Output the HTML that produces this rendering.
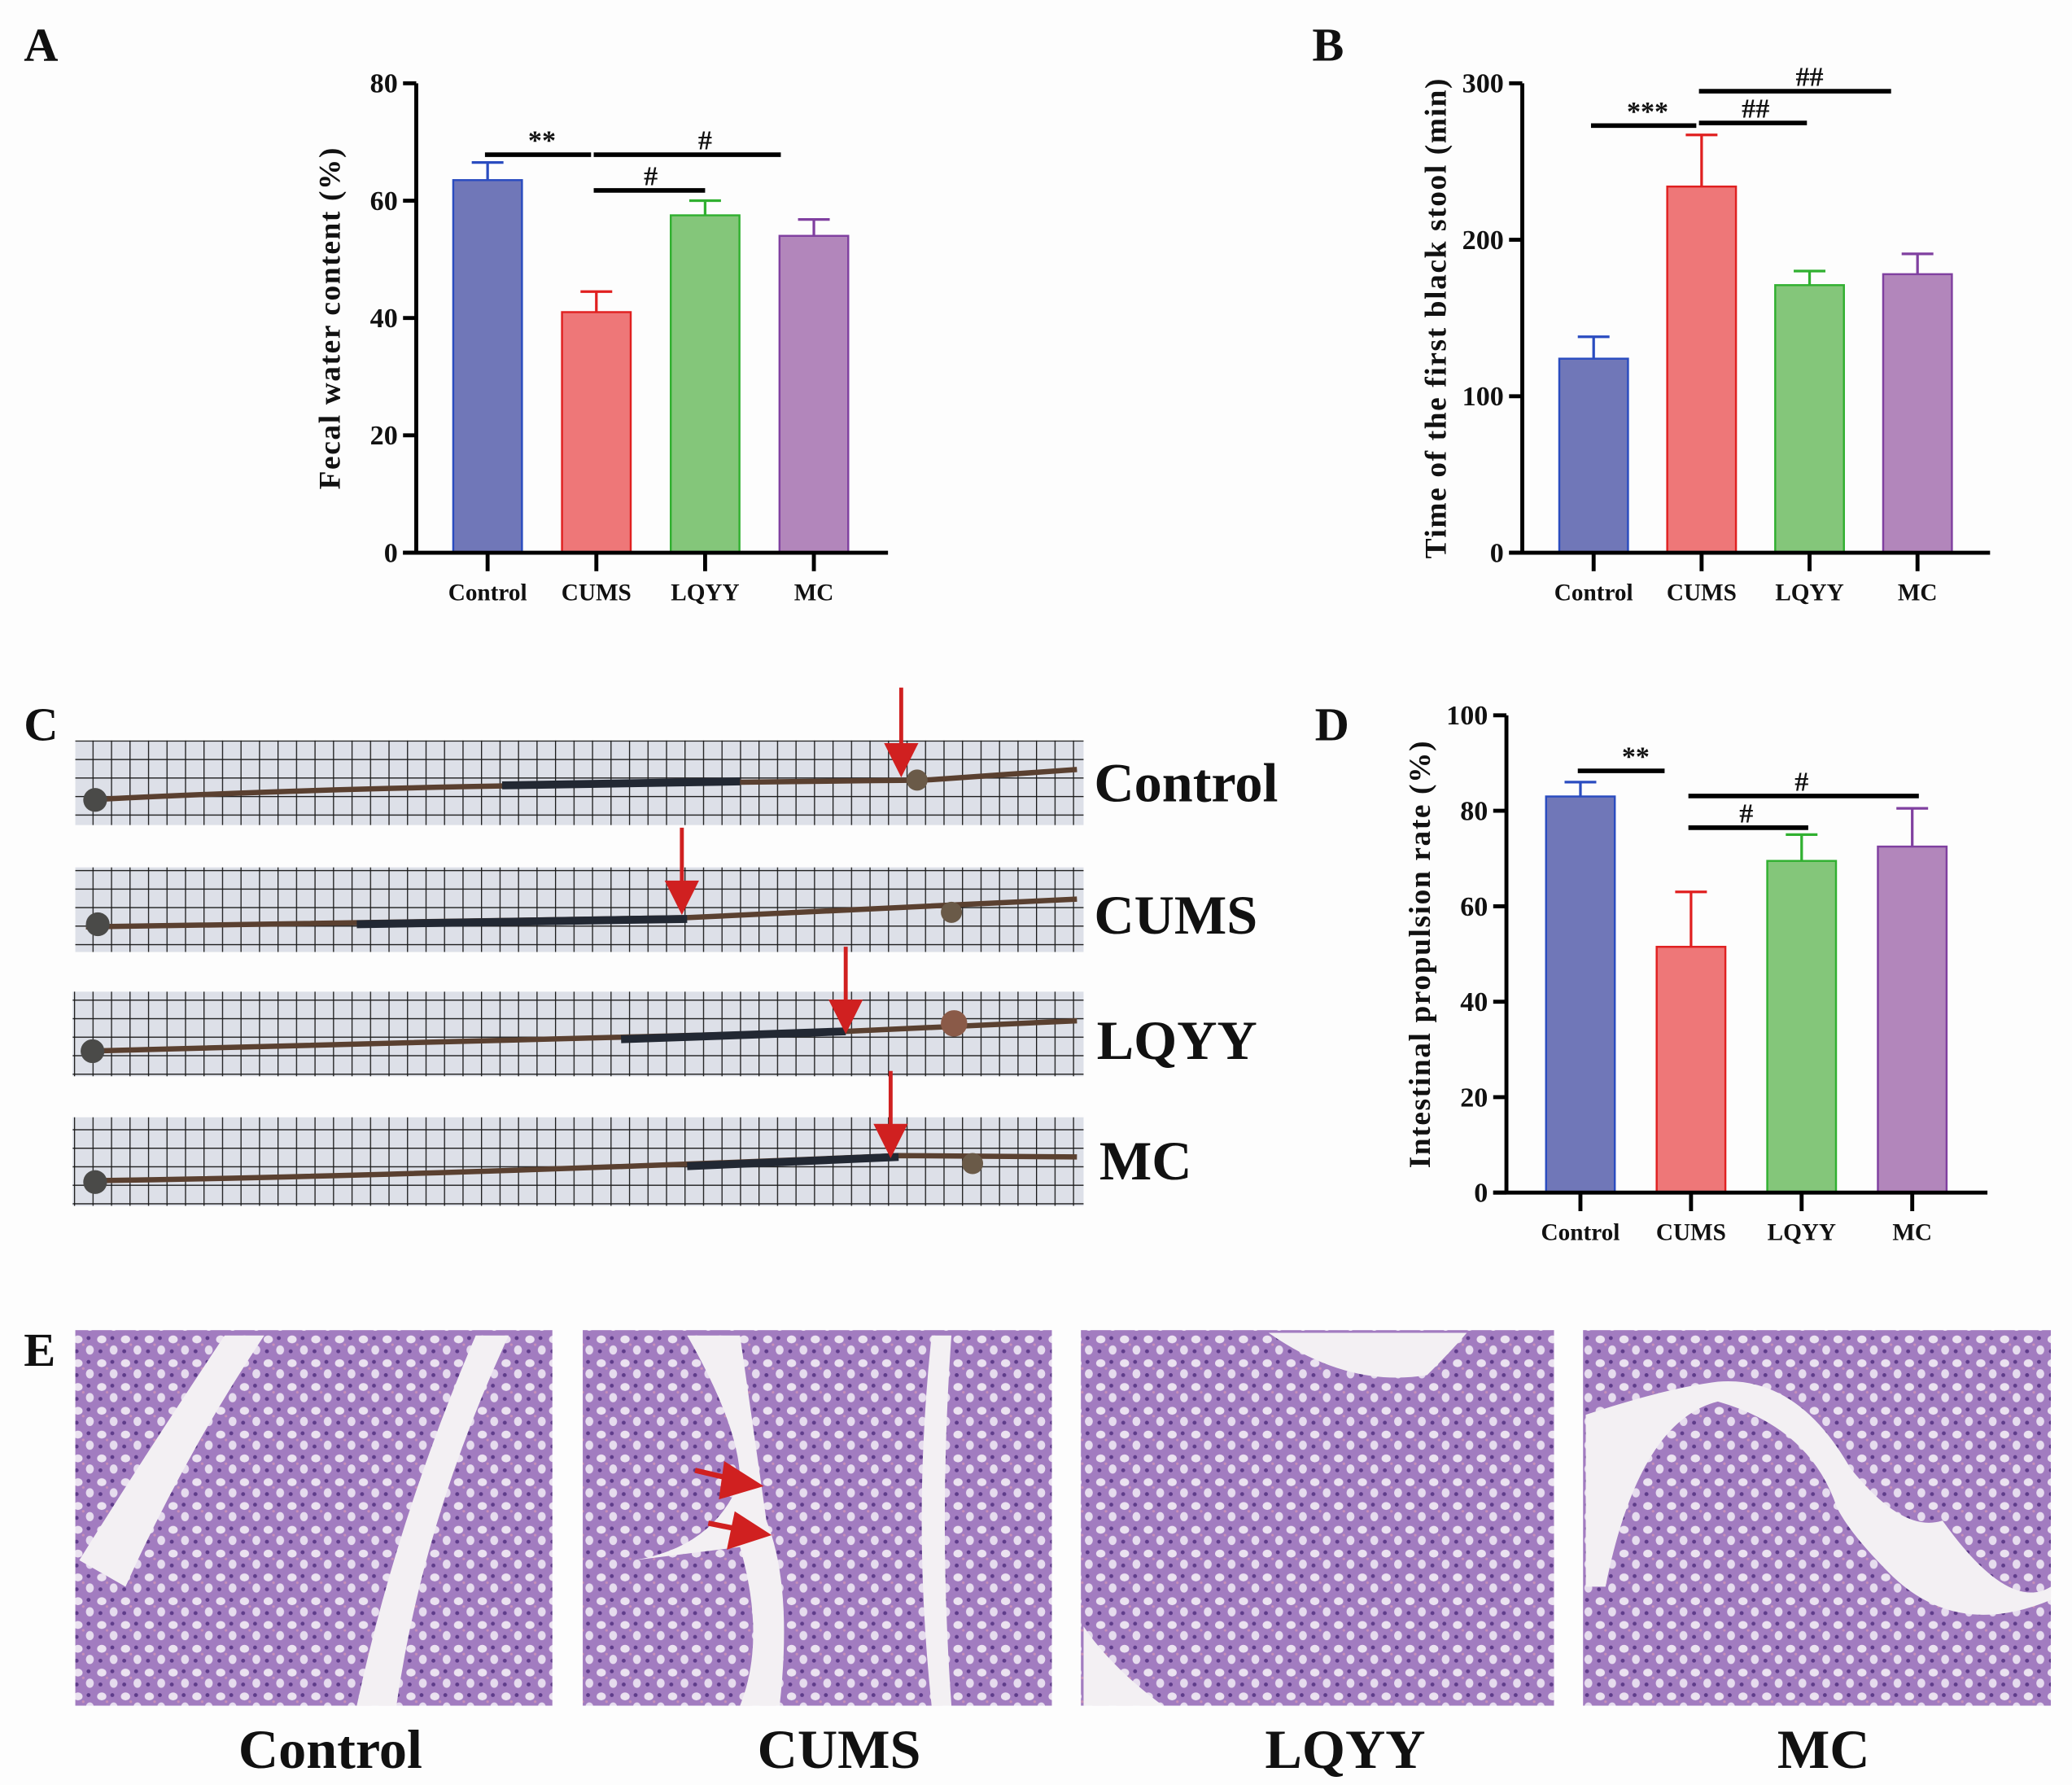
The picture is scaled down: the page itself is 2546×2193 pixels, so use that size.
<!DOCTYPE html>
<html><head><meta charset="utf-8"><style>
html,body{margin:0;padding:0;background:#fdfdfd;}
svg{display:block;}
text{font-family:"Liberation Serif",serif;font-weight:bold;fill:#111;}
</style></head><body>
<svg id="fig" width="2546" height="2193" viewBox="0 0 1568 1350" preserveAspectRatio="none" xmlns="http://www.w3.org/2000/svg">
<defs>
<pattern id="grid" width="14" height="14" patternUnits="userSpaceOnUse">
<rect width="14" height="14" fill="#dde0e8"/>
<path d="M0 0H14M0 0V14" stroke="#1a1a1a" stroke-width="1.6"/>
</pattern>
<pattern id="tissue" width="18" height="18" patternUnits="userSpaceOnUse">
<rect width="18" height="18" fill="#a27cc0"/>
<ellipse cx="5" cy="5" rx="3.5" ry="3" fill="#ebe2f0"/>
<ellipse cx="14" cy="13" rx="3" ry="3.5" fill="#e6dcee"/>
<circle cx="13" cy="4" r="1.5" fill="#5e3c8a"/>
<circle cx="4" cy="14" r="1.5" fill="#5e3c8a"/>
<circle cx="9" cy="9" r="1" fill="#c890b8"/>
</pattern>
</defs>
<rect width="1568" height="1350" fill="#fdfdfd"/>
<g id="panelA"></g>
<g id="panelB"></g>
<g id="panelD"></g>
<text x="18" y="46" font-size="36">A</text>
<text x="993" y="46" font-size="36">B</text>
<text x="18" y="560" font-size="36">C</text>
<text x="995" y="560" font-size="36">D</text>
<text x="18" y="1033" font-size="36">E</text>

<g>
<g>
<rect x="57" y="560" width="763" height="64" fill="url(#grid)"/>
<path d="M65 605 Q200 598 350 595 T700 590 L815 582" stroke="#5a4030" stroke-width="4" fill="none"/>
<path d="M380 594 L560 591" stroke="#222833" stroke-width="6"/>
<circle cx="72" cy="605" r="9" fill="#4a4a48"/><circle cx="694" cy="590" r="8" fill="#6a5a48"/>
<path d="M682 520 V575" stroke="#d02020" stroke-width="3"/><path d="M669 562 L695 562 L682 588Z" fill="#d02020"/>
<text x="828" y="606" font-size="42">Control</text>
</g>
<g>
<rect x="57" y="656" width="763" height="64" fill="url(#grid)"/>
<path d="M65 701 Q300 698 520 694 L815 680" stroke="#5a4030" stroke-width="4" fill="none"/>
<path d="M270 699 L520 695" stroke="#222833" stroke-width="6"/>
<circle cx="74" cy="699" r="9" fill="#4a4a48"/><circle cx="720" cy="690" r="8" fill="#6a5a48"/>
<path d="M516 626 V680" stroke="#d02020" stroke-width="3"/><path d="M503 666 L529 666 L516 692Z" fill="#d02020"/>
<text x="828" y="706" font-size="42">CUMS</text>
</g>
<g>
<rect x="55" y="750" width="765" height="64" fill="url(#grid)"/>
<path d="M65 795 Q300 790 640 780 L815 772" stroke="#5a4030" stroke-width="4" fill="none"/>
<path d="M470 786 L640 780" stroke="#222833" stroke-width="6"/>
<circle cx="70" cy="795" r="9" fill="#4a4a48"/><circle cx="722" cy="774" r="10" fill="#8a5a48"/>
<path d="M640 716 V768" stroke="#d02020" stroke-width="3"/><path d="M627 756 L653 756 L640 782Z" fill="#d02020"/>
<text x="830" y="801" font-size="42">LQYY</text>
</g>
<g>
<rect x="55" y="845" width="765" height="67" fill="url(#grid)"/>
<path d="M65 893 Q300 890 680 874 L815 875" stroke="#5a4030" stroke-width="4" fill="none"/>
<path d="M520 882 L680 875" stroke="#222833" stroke-width="6"/>
<circle cx="72" cy="894" r="9" fill="#4a4a48"/><circle cx="736" cy="880" r="8" fill="#6a5a48"/>
<path d="M674 810 V862" stroke="#d02020" stroke-width="3"/><path d="M661 850 L687 850 L674 876Z" fill="#d02020"/>
<text x="832" y="892" font-size="42">MC</text>
</g>
</g>

<g>
<g>
<rect x="57" y="1006" width="361" height="284" fill="url(#tissue)"/>
<path d="M60 1180 Q110 1100 170 1010 L200 1010 Q140 1100 95 1200Z M270 1290 Q300 1150 360 1010 L385 1010 Q320 1150 300 1290Z" fill="#f3f0f3"/>
<text x="250" y="1337" font-size="42" text-anchor="middle">Control</text>
</g>
<g>
<rect x="441" y="1006" width="355" height="284" fill="url(#tissue)"/>
<path d="M520 1010 Q560 1080 560 1120 Q540 1170 480 1180 L560 1170 Q580 1240 560 1290 L590 1290 Q600 1200 580 1150 L560 1010Z M705 1010 Q690 1150 705 1290 L720 1290 Q710 1150 720 1010Z" fill="#f3f0f3"/>
<path d="M526 1112 L560 1120" stroke="#d02020" stroke-width="4"/><path d="M548 1105 L578 1124 L544 1134Z" fill="#d02020"/>
<path d="M536 1152 L566 1158" stroke="#d02020" stroke-width="4"/><path d="M556 1143 L584 1161 L550 1172Z" fill="#d02020"/>
<text x="635" y="1337" font-size="42" text-anchor="middle">CUMS</text>
</g>
<g>
<rect x="818" y="1006" width="358" height="284" fill="url(#tissue)"/>
<path d="M960 1008 Q1020 1050 1080 1040 Q1100 1020 1110 1008Z M820 1230 Q840 1260 880 1290 L820 1290Z" fill="#f3f0f3"/>
<text x="1018" y="1337" font-size="42" text-anchor="middle">LQYY</text>
</g>
<g>
<rect x="1198" y="1006" width="354" height="284" fill="url(#tissue)"/>
<path d="M1200 1070 Q1260 1050 1300 1045 Q1360 1040 1400 1110 Q1440 1160 1470 1150 Q1520 1220 1552 1200 L1552 1210 Q1480 1240 1430 1190 Q1400 1160 1390 1140 Q1370 1080 1300 1060 Q1240 1075 1215 1200 L1200 1200Z" fill="#f3f0f3"/>
<text x="1380" y="1337" font-size="42" text-anchor="middle">MC</text>
</g>
</g>
</svg>
<script>
const categories = ["Control","CUMS","LQYY","MC"];
const aValues = [63.5, 41, 57.5, 54];
const aErrors = [3, 3.5, 2.5, 2.8];
const aTicks = [0,20,40,60,80];
const bValues = [124, 234, 171, 178];
const bErrors = [14, 33, 9, 13];
const bTicks = [0,100,200,300];
const dValues = [83, 51.5, 69.5, 72.5];
const dErrors = [3, 11.5, 5.5, 8];
const dTicks = [0,20,40,60,80,100];
const fills = ["#7077b8","#ee7778","#84c67a","#b286bb"];
const strokes = ["#2a4cc0","#e02020","#30b030","#8040a0"];
const NS = "http://www.w3.org/2000/svg";
function mk(parent, tag, attrs, txt){
  const e = document.createElementNS(NS, tag);
  for (const k in attrs) e.setAttribute(k, attrs[k]);
  if (txt !== undefined) e.textContent = txt;
  parent.appendChild(e); return e;
}
function chart(gid, cfg, values, errors, ticks, sigs){
  const g = document.getElementById(gid);
  const max = ticks[ticks.length-1];
  const y = v => cfg.y0 - (v/max)*(cfg.y0-cfg.y1);
  const x = i => cfg.cx0 + i*cfg.step;
  values.forEach((v,i)=>{
    const r = mk(g,"rect",{x:x(i)-cfg.bw/2,y:y(v),width:cfg.bw,height:cfg.y0-y(v),fill:fills[i],stroke:strokes[i],"stroke-width":1.5});
    
    
    const e = mk(g,"path",{d:`M${x(i)} ${y(v)} V${y(v+errors[i])} M${x(i)-12} ${y(v+errors[i])} H${x(i)+12}`,stroke:strokes[i],"stroke-width":2,fill:"none"});
    
    
    const t = mk(g,"text",{x:x(i),y:cfg.y0+36,"font-size":18,"text-anchor":"middle"},categories[i]);
    
    
    mk(g,"path",{d:`M${x(i)} ${cfg.y0} V${cfg.y0+14}`,stroke:"#000","stroke-width":3});
  });
  const ax = mk(g,"path",{d:`M${cfg.ax} ${cfg.y1} V${cfg.y0} M${cfg.ax-10} ${cfg.y0} H${cfg.xe}`,stroke:"#000","stroke-width":3,fill:"none"});
  
  
  ticks.forEach(tv=>{
    mk(g,"path",{d:`M${cfg.ax-10} ${y(tv)} H${cfg.ax}`,stroke:"#000","stroke-width":3});
    const t = mk(g,"text",{x:cfg.ax-14,y:y(tv)+7,"font-size":21,"text-anchor":"end"},tv);
    
    
  });
  const yt = mk(g,"text",{transform:`translate(${cfg.ax-58},${(cfg.y0+cfg.y1)/2}) rotate(-90)`,"font-size":23,"text-anchor":"middle","letter-spacing":"1"},cfg.title);
  
  
  sigs.forEach(s=>{
    const p = mk(g,"path",{d:`M${x(s[0])-2} ${s[2]} H${x(s[1])+ (s[4]||0)}`,stroke:"#000","stroke-width":3.5});
    
    
    const t = mk(g,"text",{x:(x(s[0])+x(s[1]))/2,y:s[2]-4,"font-size":21,"text-anchor":"middle"},s[3]);
    
    
  });
}
chart("panelA",{ax:315,y0:418,y1:63,xe:672,cx0:369,step:82.3,bw:52,title:"Fecal water content (%)"},aValues,aErrors,aTicks,
  [[0,1,117,"**",-4],[1,3,117,"#",-25],[1,2,144,"#",0]]);
chart("panelB",{ax:1152,y0:418,y1:63,xe:1506,cx0:1206,step:81.7,bw:52,title:"Time of the first black stool (min)"},bValues,bErrors,bTicks,
  [[0,1,95,"***",-4],[1,2,93,"##",-2],[1,3,69,"##",-20]]);
chart("panelD",{ax:1140,y0:902,y1:541,xe:1504,cx0:1196,step:83.7,bw:52,title:"Intestinal propulsion rate (%)"},dValues,dErrors,dTicks,
  [[0,1,583,"**",-20],[1,3,602,"#",5],[1,2,626,"#",5]]);
</script>
</body></html>
